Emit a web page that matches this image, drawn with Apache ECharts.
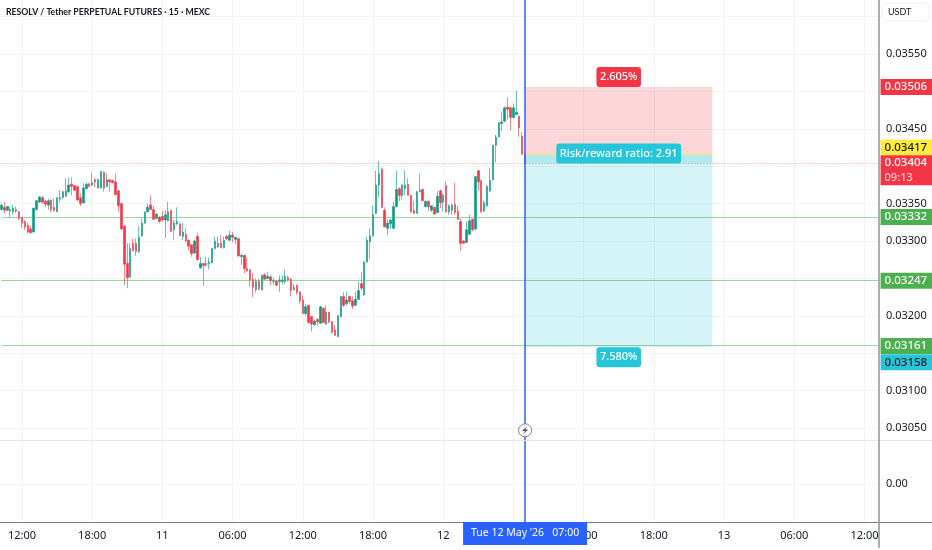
<!DOCTYPE html>
<html><head><meta charset="utf-8">
<style>html,body{margin:0;padding:0;background:#fff}#c{width:932px;height:550px}</style>
<script src="https://cdn.jsdelivr.net/npm/echarts@6/dist/echarts.min.js"></script>
</head><body><div id="c"></div>
<script>
// [open, close, low, high] in 1e-5 USDT, 15 minute bars
const candles = [
[3342,3348,3341,3350],[3345,3341,3337,3352],[3341,3346,3340,3347],[3342,3340,3332,3346],[3339,3344,3335,3348],[3340,3342,3337,3346],
[3339,3330,3328,3341],[3332,3324,3317,3332],[3326,3319,3315,3328],[3321,3312,3310,3324],[3316,3311,3310,3321],[3312,3344,3312,3344],
[3342,3354,3341,3355],[3352,3359,3351,3360],[3358,3352,3350,3360],[3353,3349,3345,3355],[3348,3354,3342,3356],[3355,3342,3338,3355],
[3345,3341,3339,3357],[3339,3358,3339,3358],[3356,3358,3352,3368],[3358,3366,3357,3367],[3360,3367,3359,3384],[3366,3375,3364,3385],
[3376,3373,3361,3385],[3374,3368,3367,3375],[3373,3355,3353,3373],[3358,3350,3347,3364],[3351,3371,3350,3377],[3370,3376,3369,3378],
[3376,3373,3372,3378],[3375,3378,3373,3391],[3382,3379,3372,3384],[3371,3382,3370,3384],[3371,3393,3370,3394],[3392,3371,3366,3393],
[3373,3382,3372,3390],[3382,3379,3366,3382],[3381,3378,3377,3382],[3379,3362,3361,3390],[3367,3347,3339,3368],[3350,3316,3315,3350],
[3320,3269,3241,3320],[3270,3251,3237,3297],[3252,3290,3251,3297],[3297,3287,3286,3303],[3297,3286,3280,3303],[3286,3305,3284,3320],
[3307,3324,3306,3330],[3324,3339,3323,3339],[3339,3345,3338,3350],[3348,3342,3341,3361],[3342,3329,3328,3347],[3330,3336,3329,3337],
[3332,3326,3324,3333],[3333,3328,3326,3340],[3328,3335,3304,3341],[3327,3339,3326,3352],[3341,3313,3312,3341],[3315,3324,3302,3328],
[3323,3326,3321,3345],[3323,3307,3307,3324],
[3306,3312,3301,3324],[3309,3300,3299,3317],[3301,3293,3287,3302],[3295,3283,3279,3295],[3284,3300,3283,3302],[3306,3275,3275,3311],
[3264,3270,3263,3279],[3270,3267,3240,3270],[3268,3270,3266,3279],[3270,3272,3262,3278],[3271,3290,3270,3291],[3290,3300,3289,3306],
[3292,3297,3291,3306],[3297,3291,3291,3308],[3291,3301,3290,3306],[3306,3303,3301,3308],[3301,3308,3300,3314],[3308,3305,3298,3312],
[3302,3305,3296,3306],[3303,3280,3279,3305],[3279,3281,3268,3283],[3281,3263,3257,3281],[3263,3260,3259,3277],[3262,3248,3239,3262],
[3249,3238,3225,3257],[3235,3246,3231,3250],[3246,3236,3234,3249],[3235,3254,3234,3255],[3255,3249,3248,3257],[3250,3253,3249,3259],
[3252,3247,3241,3254],[3246,3247,3241,3251],[3246,3241,3240,3248],[3246,3248,3232,3254],[3246,3248,3242,3254],[3246,3253,3243,3262],
[3251,3248,3246,3254],[3249,3234,3226,3250],[3235,3238,3234,3243],[3241,3231,3228,3242],[3232,3220,3216,3233],[3221,3203,3202,3227],
[3203,3212,3200,3216],[3214,3191,3190,3214],[3199,3189,3179,3200],[3188,3193,3187,3195],[3195,3192,3187,3197],[3190,3212,3189,3213],
[3210,3191,3190,3211],[3189,3205,3188,3214],[3205,3192,3190,3205],[3192,3178,3176,3193],[3181,3174,3173,3188],[3172,3200,3172,3201],
[3199,3226,3198,3226],[3226,3214,3212,3232],[3216,3221,3214,3232],[3226,3219,3216,3227],[3220,3213,3209,3226],[3214,3222,3213,3232],
[3222,3234,3221,3246],[3243,3237,3234,3259],[3228,3272,3227,3273],
[3272,3301,3271,3306],[3299,3307,3276,3317],[3307,3335,3306,3347],[3337,3375,3336,3394],[3375,3390,3358,3407],[3396,3345,3344,3398],
[3341,3319,3318,3345],[3317,3324,3308,3329],[3323,3328,3317,3329],[3317,3346,3316,3352],[3346,3369,3345,3394],[3370,3361,3353,3372],
[3361,3375,3355,3376],[3370,3375,3361,3395],[3376,3361,3361,3384],[3361,3339,3338,3362],[3341,3337,3336,3353],[3337,3366,3336,3367],
[3366,3368,3365,3390],[3369,3354,3353,3370],[3346,3353,3345,3354],[3353,3346,3340,3354],[3341,3347,3339,3348],[3345,3336,3336,3346],
[3338,3360,3337,3367],[3367,3351,3344,3369],[3352,3361,3340,3364],[3374,3339,3338,3380],[3339,3347,3335,3349],[3341,3348,3335,3350],
[3349,3338,3335,3378],[3340,3329,3328,3347],[3326,3297,3287,3330],[3300,3297,3296,3301],[3298,3315,3297,3326],[3309,3327,3308,3335],
[3329,3315,3313,3330],[3316,3386,3315,3387],[3394,3379,3367,3395],[3381,3339,3338,3381],[3340,3351,3339,3354],[3347,3373,3346,3375],
[3367,3381,3366,3397],[3382,3428,3381,3428],[3428,3439,3405,3442],[3439,3458,3439,3459],[3457,3459,3447,3473],[3460,3478,3459,3480],
[3479,3476,3462,3492],[3478,3465,3448,3480],[3465,3478,3464,3484],[3469,3472,3468,3501],[3467,3451,3439,3467],[3440,3416,3415,3446],
[3417,3404,3403,3418]
];
const priceTicks = [3600,3550,3500,3450,3400,3350,3300,3250,3200,3150,3100,3050];
const priceLabels = [3550,3450,3350,3300,3200,3100,3050];
const lowerTicks = [0];
const supportLevels = [3332,3247,3161];
const stopPrice = 3506, entryPrice = 3417, targetPrice = 3158, lastPrice = 3404, boltPrice = 3047;
const lastCountdown = '09:13';
const riskPct = '2.605%', rewardPct = '7.580%', ratioText = 'Risk/reward ratio: 2.91';
const titleText = 'RESOLV / Tether PERPETUAL FUTURES · 15 · MEXC';
const cursorText = "Tue 12 May '26   07:00";
const firstBarIndexOfDay = 55, barCount = 301, boxStart = 179, boxEnd = 243, boxMid = 211;

const U = 1e-5, RED = '#f23645', GREEN = '#089981', LINEGREEN = '#4caf50', CYAN = '#26c6da', BLUE = '#2962ff';
const FONT = '"Noto Sans", sans-serif';
const yMin = 0.03034, yMax = 0.036222;
const dayNames = {55:'11',151:'12',247:'13'};
const categories = [];
for (let i = 0; i < barCount; i++) {
  const mins = (((i - firstBarIndexOfDay) * 15) % 1440 + 1440) % 1440;
  const hh = String(Math.floor(mins / 60)).padStart(2, '0');
  const mm = String(mins % 60).padStart(2, '0');
  categories.push(dayNames[i] || hh + ':' + mm);
}
const isLabelBar = i => i % 24 === 7;
const P = v => +(v * U).toFixed(5);
const priceText = v => P(v).toFixed(5);

function tag(value, bg, fg, dy) {
  return {
    coord: [barCount - 1, P(value)], symbolSize: 0,
    label: { show: true, position: 'inside', align: 'left', verticalAlign: 'middle', offset: [1.5, dy],
      formatter: priceText(value), backgroundColor: bg, color: fg, width: 49, height: 16, padding: [0, 0, 0, 4],
      lineHeight: 16, fontFamily: FONT, fontSize: 11.5, fontWeight: 500 }
  };
}
function boxLabel(value, text, bg, position) {
  return {
    coord: [boxMid, P(value)], symbolSize: 0,
    label: { show: true, position, distance: 0, formatter: text, backgroundColor: bg, color: '#fff', borderRadius: 3,
      padding: [4, 3.5], fontFamily: FONT, fontSize: 11, fontWeight: 500, lineHeight: 12 }
  };
}
const lvl = (v, c, type, w) => [
  { coord: [0, P(v)], lineStyle: { color: c, type, width: w }, label: { show: false } },
  { coord: [barCount - 1, P(v)] }
];

const xBase = {
  type: 'category', data: categories, boundaryGap: true,
  axisLine: { show: false }, axisTick: { show: false },
  splitLine: { show: true, interval: i => isLabelBar(i), alignWithLabel: true, lineStyle: { color: '#f2f3f5', width: 1 } }
};
const gridW = 881.93, yOffset = -1.53;
const chart = echarts.init(document.getElementById('c'), null, { renderer: 'canvas' });
chart.setOption({
  animation: false, backgroundColor: '#fff', tooltip: { show: false },
  title: { text: titleText, left: 6, top: 8, padding: 0, textStyle: { fontFamily: 'Lato, sans-serif', fontSize: 8.7, fontWeight: 'bold', color: '#131722' } },
  grid: [
    { left: -1.4, width: gridW, top: 0, height: 440 },
    { left: -1.4, width: gridW, top: 441, height: 81 }
  ],
  xAxis: [
    Object.assign({}, xBase, { gridIndex: 0, axisLabel: { show: false } }),
    Object.assign({}, xBase, { gridIndex: 1,
      axisLabel: { show: true, interval: i => isLabelBar(i), color: '#131722', fontFamily: FONT, fontSize: 11, margin: 8 },
      axisPointer: { show: true, status: 'show', value: boxStart, triggerOn: 'none', triggerTooltip: false, snap: false,
        lineStyle: { color: BLUE, width: 1.5, type: 'solid' },
        label: { show: true, formatter: cursorText, backgroundColor: BLUE, color: '#fff', padding: [6, 8], margin: 0, borderRadius: 0,
          fontFamily: FONT, fontSize: 10.5, shadowBlur: 0 } } })
  ],
  yAxis: [
    { type: 'value', gridIndex: 0, position: 'right', offset: yOffset, min: yMin, max: yMax, scale: true,
      axisLine: { show: false }, 
      axisTick: { show: false, customValues: priceTicks.map(P) },
      axisLabel: { show: true, customValues: priceLabels.map(P), formatter: v => v.toFixed(5), color: '#131722', fontFamily: FONT, fontSize: 11, margin: 7 },
      splitLine: { show: true, lineStyle: { color: '#f2f3f5', width: 1 } } },
    { type: 'value', gridIndex: 1, position: 'right', offset: yOffset, min: -0.469, max: 0.531,
      axisLine: { show: false },
      axisTick: { show: false, customValues: lowerTicks },
      axisLabel: { show: true, customValues: lowerTicks, formatter: v => v.toFixed(2), color: '#131722', fontFamily: FONT, fontSize: 11, margin: 7 },
      splitLine: { show: true, lineStyle: { color: '#f2f3f5', width: 1 } } }
  ],
  series: [
    { type: 'candlestick', name: 'RESOLVUSDT', xAxisIndex: 0, yAxisIndex: 0, barWidth: 2, clip: false, z: 3,
      data: candles.map(r => r.map(P)),
      itemStyle: { color: GREEN, color0: RED, borderColor: 'rgba(8,153,129,0.6)', borderColor0: 'rgba(242,54,69,0.6)', borderWidth: 1 },
      markArea: { silent: true, z: 1, data: [
        [{ coord: [boxStart, P(stopPrice)], itemStyle: { color: 'rgba(242,54,69,0.2)' } }, { coord: [boxEnd, P(entryPrice)] }],
        [{ coord: [boxStart, P(entryPrice)], itemStyle: { color: 'rgba(38,198,218,0.2)' } }, { coord: [boxEnd, P(targetPrice)] }],
        [{ coord: [boxStart, P(entryPrice)], itemStyle: { color: 'rgba(38,198,218,0.2)' } }, { coord: [boxEnd, P(lastPrice)] }]
      ] },
      markLine: { silent: true, symbol: 'none', animation: false, z: 5, data: [
        ...supportLevels.map(v => lvl(v, 'rgba(76,175,80,0.55)', 'solid', 1.2)),
        lvl(lastPrice, 'rgba(242,54,69,0.55)', [1, 2], 1),
        [{ coord: [boxStart, P(entryPrice)], lineStyle: { color: '#ffe08a', width: 2, type: 'solid' }, label: { show: false } },
         { coord: [boxEnd, P(entryPrice)] }],
        [{ coord: [boxStart, yMin], lineStyle: { color: BLUE, width: 1.5, type: 'solid' }, label: { show: false } },
         { coord: [boxStart, yMax] }]
      ] },
      markPoint: { silent: true, animation: false, z: 8, data: [
        tag(stopPrice, RED, '#fff', 0),
        tag(entryPrice, '#ffeb3b', '#131722', -6),
        { coord: [barCount - 1, P(lastPrice)], symbolSize: 0,
          label: { show: true, position: 'inside', align: 'left', verticalAlign: 'top', offset: [1.5, -8],
            formatter: priceText(lastPrice) + '\n{t|' + lastCountdown + '}', backgroundColor: RED, color: '#fff',
            width: 49, height: 30, padding: [0, 0, 0, 4], lineHeight: 15, fontFamily: FONT, fontSize: 11.5, fontWeight: 500,
            rich: { t: { color: 'rgba(255,255,255,0.75)', fontFamily: FONT, fontSize: 11, lineHeight: 15 } } } },
        tag(supportLevels[0], LINEGREEN, '#fff', 0),
        tag(supportLevels[1], LINEGREEN, '#fff', 0),
        tag(supportLevels[2], LINEGREEN, '#fff', 1),
        tag(targetPrice, CYAN, '#131722', 15),
        boxLabel(stopPrice, riskPct, RED, 'top'),
        boxLabel(entryPrice, ratioText, CYAN, 'inside'),
        boxLabel(targetPrice, rewardPct, CYAN, 'bottom'),
        { coord: [boxStart, P(boltPrice)], symbol: 'circle', symbolSize: 13, itemStyle: { color: '#fff', borderColor: '#8a7f86', borderWidth: 1 }, label: { show: false } },
        { coord: [boxStart, P(boltPrice)], symbol: 'path://M6 0 L1 6 L4 6 L2 10 L7 4 L4 4 Z', symbolSize: [6, 8], itemStyle: { color: '#434651' }, label: { show: false } }
      ] }
    },
    { type: 'line', name: 'lower pane', xAxisIndex: 1, yAxisIndex: 1, data: [], showSymbol: false }
  ],
  graphic: [
    { type: 'line', z: 50, shape: { x1: 0, y1: 440.5, x2: 932, y2: 440.5 }, style: { stroke: '#e6e7ea', lineWidth: 1 } },
    { type: 'line', z: 50, shape: { x1: 0, y1: 522.5, x2: 932, y2: 522.5 }, style: { stroke: '#787b86', lineWidth: 1 } },
    { type: 'line', z: 50, shape: { x1: 879, y1: 0, x2: 879, y2: 548 }, style: { stroke: '#8f9299', lineWidth: 1.5 } },
    { type: 'rect', z: 51, shape: { x: 882, y: 3, width: 47, height: 18, r: 4 }, style: { fill: '#fff', stroke: '#f0f1f3', lineWidth: 1 } },
    { type: 'text', z: 52, left: 888, top: 8, style: { text: 'USDT', fill: '#131722', font: '9px Lato, sans-serif' } }
  ]
});
</script></body></html>
